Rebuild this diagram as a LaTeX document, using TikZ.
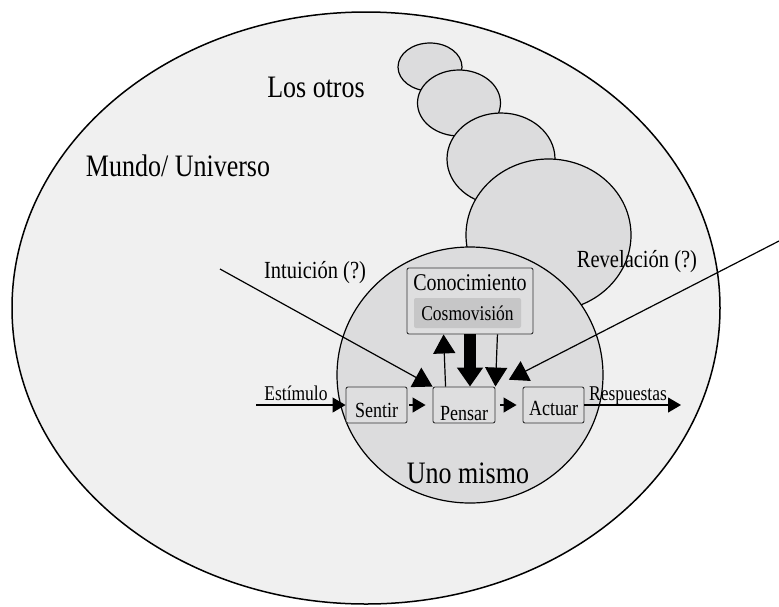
\documentclass[tikz,border=0pt]{standalone}
\usepackage{graphicx}
\usepackage{fontspec}
\setmainfont{Liberation Serif}
\usetikzlibrary{shapes.geometric,arrows.meta,calc}

\definecolor{worldfill}{HTML}{F0F0F0}
\definecolor{selffill}{HTML}{DCDCDD}
\definecolor{boxfill}{HTML}{DEDEDF}
\definecolor{cosmofill}{HTML}{C6C6C7}
\definecolor{boxline}{HTML}{333333}

\newcommand{\fs}[1]{\fontsize{#1}{#1}\selectfont}
% slightly condensed-looking lettering: stretch glyphs vertically
\newcommand{\tall}[1]{\scalebox{1}[1.2]{#1}}

\tikzset{
  oval/.style={ellipse, draw=black, fill=selffill, line width=1.2pt, inner sep=0pt},
  stagebox/.style={rectangle, rounded corners=2pt, draw=boxline, fill=boxfill,
    line width=0.9pt, inner sep=0pt, minimum width=61pt, minimum height=36pt,
    text depth=0pt, font=\fs{18}},
  biglabel/.style={font=\fs{26}, inner sep=0pt},
  midlabel/.style={font=\fs{20.5}, inner sep=0pt},
  smalllabel/.style={font=\fs{17.5}, inner sep=0pt, anchor=base},
  arr/.style={-{Triangle[length=13pt,width=15pt]}, line width=1.2pt},
  bigarr/.style={-{Triangle[length=19pt,width=22pt]}, line width=1.2pt},
  thickarr/.style={-{Triangle[length=19pt,width=25pt]}, line width=12pt},
}

\begin{document}
\begin{tikzpicture}[x=1pt,y=-1pt]
\useasboundingbox (0,0) rectangle (779,606);

% outer world
\node[ellipse, draw=black, fill=worldfill, line width=1.5pt, inner sep=0pt,
      minimum width=708pt, minimum height=592pt] (world) at (366,308) {};

% chain of "others"
\node[oval, minimum width=64pt, minimum height=48pt]  (e1) at (430,67) {};
\node[oval, minimum width=83pt, minimum height=66pt]  (e2) at (459,103) {};
\node[oval, minimum width=108pt, minimum height=92pt] (e3) at (501,159) {};
\node[oval, minimum width=165pt, minimum height=152pt] (e4) at (548.5,235) {};

% oneself
\node[oval, minimum width=266pt, minimum height=256pt] (self) at (470,375) {};

% labels
\node[biglabel] (otros) at (316,87) {\tall{Los otros}};
\node[biglabel] (mundo) at (178,166) {\tall{Mundo/ Universo}};
\node[midlabel] (intu) at (315,273) {\tall{Intuición (?)}};
\node[midlabel] (revel) at (637,262) {\tall{Revelación (?)}};
\node[biglabel] (uno) at (468,473) {\tall{Uno mismo}};

% knowledge box
\node[rectangle, rounded corners=2pt, draw=boxline, fill=boxfill, line width=0.9pt,
      minimum width=126pt, minimum height=66pt, inner sep=0pt] (Con) at (470,301) {};
\node[font=\fs{20}, inner sep=0pt] (contxt) at (470,283) {\tall{Conocimiento}};
\node[rectangle, rounded corners=2pt, fill=cosmofill, minimum width=107pt,
      minimum height=30pt, inner sep=0pt, font=\fs{17.5}] (Cos) at (467.5,313) {\tall{Cosmovisión}};

% stages
\node[stagebox, text height=24pt] (Sentir) at (376.5,405) {\tall{Sentir}};
\node[stagebox, minimum width=62pt, text height=30pt] (Pensar) at (464,405) {\tall{Pensar}};
\node[stagebox, text height=20pt] (Actuar) at (553.5,405) {\tall{Actuar}};

% free ends
\coordinate (stim) at (256,405);
\coordinate (resp) at (681,405);
\coordinate (intusrc) at (220,269);
\coordinate (revsrc) at (779,241);

% flow
\draw[arr] (stim) -- (Sentir.west);
\node[smalllabel] (stimtxt) at (296,400) {\tall{Estímulo}};
\draw[arr, shorten <=2pt, shorten >=7pt] (Sentir.east) -- (Pensar.west);
\draw[arr, shorten <=5pt, shorten >=6pt] (Pensar.east) -- (Actuar.west);
\draw[arr] (Actuar.east) -- (resp);
\node[smalllabel] (resptxt) at (628,400) {\tall{Respuestas}};

% exchange with knowledge
\draw[bigarr] ($(Pensar.north west)+(13,0)$) -- ($(Con.south west)+(37,0)$);
\draw[thickarr] (Con.south) -- (Con.south |- Pensar.north);
\draw[bigarr] ($(Con.south east)+(-36,0)$) -- (Pensar.north east);

% intuition and revelation
\draw[bigarr] (intusrc) -- (Pensar.north west);
\draw[bigarr, shorten >=15pt] (revsrc) -- (Pensar.north east);
\end{tikzpicture}
\end{document}
